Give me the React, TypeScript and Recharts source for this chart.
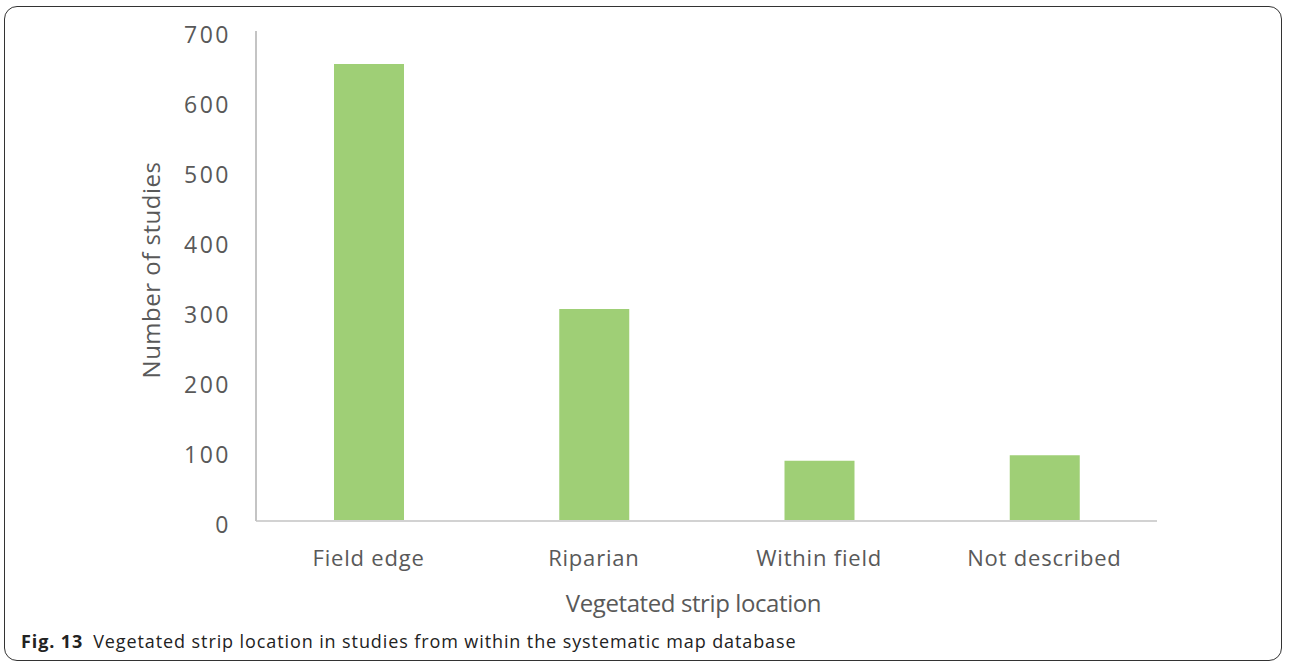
import React from "react";
import { BarChart, Bar, XAxis, YAxis } from "recharts";

const categories = ["Field edge", "Riparian", "Within field", "Not described"];
const studies = [653, 303, 86, 94];
const yTicks = [0, 100, 200, 300, 400, 500, 600, 700];

const data = categories.map((c, i) => ({ location: c, studies: studies[i] }));

const FONT = "'Open Sans', 'DejaVu Sans', sans-serif";
const TEXT = "#595959";

export default function App() {
  return (
    <div
      style={{
        position: "fixed",
        left: 0,
        top: 0,
        width: 1290,
        height: 668,
        background: "#fff",
        fontFamily: FONT,
      }}
    >
      <div
        style={{
          position: "absolute",
          left: 4,
          top: 6,
          width: 1278,
          height: 655,
          border: "1px solid #333",
          borderRadius: 13,
          boxSizing: "border-box",
        }}
      />
      <div style={{ position: "absolute", left: 0, top: 0 }}>
        <BarChart
          width={1290}
          height={668}
          data={data}
          margin={{ top: 31, right: 133, bottom: 107, left: 196 }}
          barSize={70}
        >
          <XAxis
            dataKey="location"
            height={40}
            axisLine={{ stroke: "#d2d2d2", strokeWidth: 2 }}
            tickLine={false}
            tickSize={0}
            tickMargin={29}
            tick={{ fill: TEXT, fontSize: 22, fontFamily: FONT, letterSpacing: 0.8 }}
            interval={0}
            label={{
              value: "Vegetated strip location",
              position: "bottom",
              offset: 34,
              dx: -13,
              style: { fill: TEXT, fontSize: 24, fontFamily: FONT, letterSpacing: -0.4 },
            }}
          />
          <YAxis
            width={60}
            domain={[0, 700]}
            ticks={yTicks}
            axisLine={{ stroke: "#c4c4c4", strokeWidth: 2 }}
            tickLine={false}
            tickSize={0}
            tickMargin={25}
            tick={{ fill: TEXT, fontSize: 23, fontFamily: FONT, dy: 4, letterSpacing: 2.5 }}
            label={{
              value: "Number of studies",
              angle: -90,
              position: "insideLeft",
              offset: -45,
              dy: -6,
              style: { fill: TEXT, fontSize: 24, fontFamily: FONT, textAnchor: "middle", letterSpacing: 0.5 },
            }}
          />
          <Bar dataKey="studies" fill="#9fcf76" isAnimationActive={false} />
        </BarChart>
      </div>
      <div
        style={{
          position: "absolute",
          left: 21,
          top: 631,
          fontSize: 18,
          letterSpacing: 0.9,
          color: "#222",
          fontFamily: FONT,
          whiteSpace: "nowrap",
          lineHeight: "20px",
        }}
      >
        <b>Fig. 13</b>
        <span style={{ marginLeft: 10 }}>
          Vegetated strip location in studies from within the systematic map database
        </span>
      </div>
    </div>
  );
}
